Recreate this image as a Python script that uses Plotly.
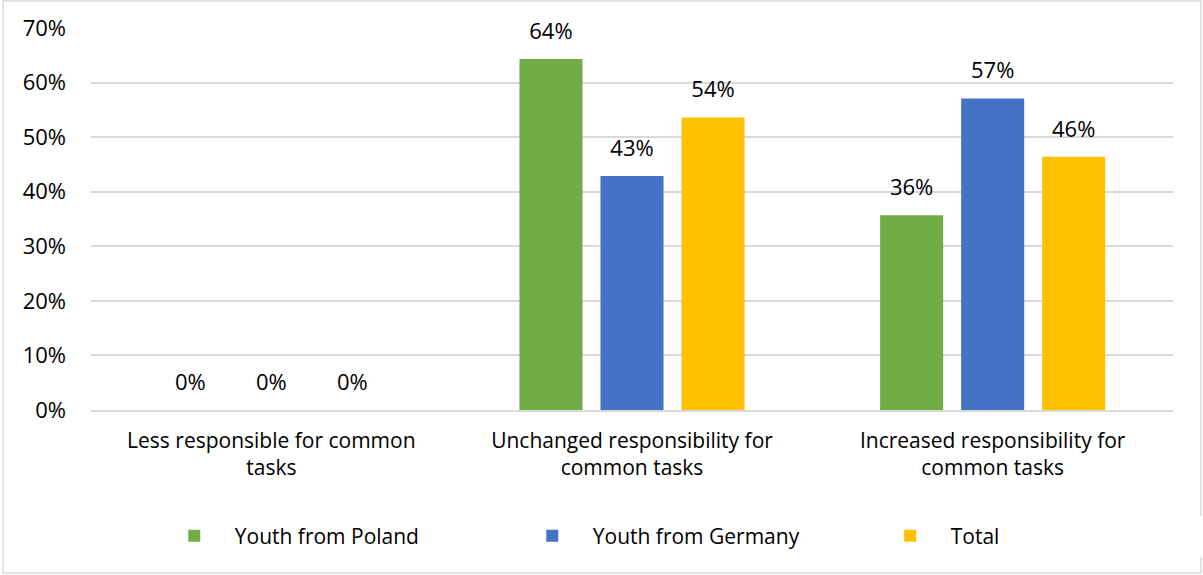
import plotly.graph_objects as go

categories = ["Less responsible for common<br>tasks",
              "Unchanged responsibility for<br>common tasks",
              "Increased responsibility for<br>common tasks"]
series_names = ["Youth from Poland", "Youth from Germany", "Total"]
poland = [0.0, 64.3, 35.7]
germany = [0.0, 42.9, 57.1]
total = [0.0, 53.6, 46.4]
tick_vals = [0, 10, 20, 30, 40, 50, 60, 70]
tick_text = ["0%", "10%", "20%", "30%", "40%", "50%", "60%", "70%"]

colors = ["#70AD47", "#4472C4", "#FFC000"]
FONT = "Open Sans"

fig = go.Figure()
for name, vals, col in zip(series_names, [poland, germany, total], colors):
    fig.add_trace(go.Bar(x=categories, y=vals, name=name, marker_color=col,
                         marker_line_width=0, offsetgroup=name, alignmentgroup="a"))
for name, vals in zip(series_names, [poland, germany, total]):
    fig.add_trace(go.Scatter(x=categories, y=vals, mode="markers+text",
                             text=[f"{v:.0f}%" for v in vals], textposition="top center",
                             marker=dict(size=22, opacity=0), showlegend=False,
                             hoverinfo="skip", offsetgroup=name, alignmentgroup="a",
                             cliponaxis=False,
                             textfont=dict(size=22, color="#000000", family=FONT)))

fig.update_layout(
    barmode="group", scattermode="group", bargap=0.326, bargroupgap=0.222,
    width=1203, height=575,
    margin=dict(l=91, r=30, t=28, b=165, autoexpand=False),
    paper_bgcolor="white", plot_bgcolor="white",
    font=dict(family=FONT, color="#000000", size=21),
    legend=dict(orientation="h", x=0.058, xanchor="left", y=-0.33, yanchor="middle",
                entrywidth=272, itemwidth=71, font=dict(size=21, family=FONT)),
    yaxis=dict(range=[0, 70], tickvals=tick_vals, ticktext=tick_text,
               showgrid=True, gridcolor="#D9D9D9", gridwidth=1.5, zeroline=False,
               tickfont=dict(size=22, family=FONT), ticklabelstandoff=24, fixedrange=True),
    xaxis=dict(showline=True, linecolor="#D9D9D9", linewidth=1.5,
               tickfont=dict(size=21, family=FONT), ticklabelstandoff=11),
    shapes=[dict(type="rect", xref="paper", yref="paper",
                 x0=(3 - 91) / 1082, x1=(1201 - 91) / 1082,
                 y0=(410 - 573) / 382, y1=(410 - 1) / 382,
                 line=dict(color="#D9D9D9", width=1.5), fillcolor="rgba(0,0,0,0)", layer="below")],
)
fig.write_html("out.html")
